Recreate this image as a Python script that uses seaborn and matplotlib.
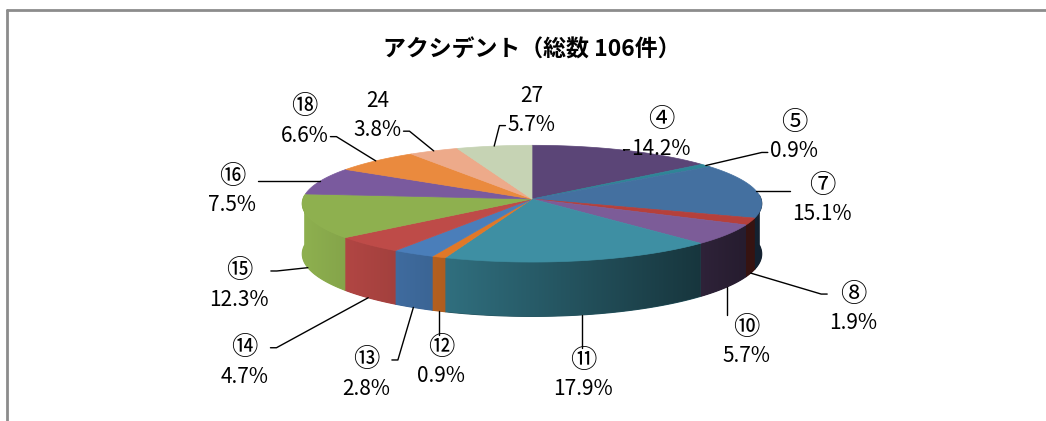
import matplotlib
matplotlib.use("Agg")
import matplotlib.pyplot as plt
import seaborn as sns
import numpy as np
from matplotlib.patches import Polygon

# --- Data ---
labels = ["④", "⑤", "⑦", "⑧", "⑩", "⑪", "⑫", "⑬", "⑭", "⑮", "⑯", "⑱", "24", "27"]
shares = [14.2, 0.9, 15.1, 1.9, 5.7, 17.9, 0.9, 2.8, 4.7, 12.3, 7.5, 6.6, 3.8, 5.7]
slice_colors = ["#5B4577", "#2F8597", "#4470A0", "#B5403B", "#7C5C98", "#3E8FA3", "#E07828",
                "#4A7EBA", "#BE4B48", "#8EB04F", "#7A5A9E", "#EA8A3E", "#EDAA8A", "#C6D3B4"]
title = "アクシデント（総数 106件）"

# label nudges (px) from the default radial spot
label_nudge = {"④": (2, 20), "⑤": (27, -7), "⑦": (-2, 10), "⑧": (48, 40), "⑩": (-25, 38),
               "⑪": (-9, 4), "⑫": (20, 0), "⑬": (-24, 21), "⑭": (-89, 32), "⑮": (-11, 31),
               "⑯": (-20, 18), "⑱": (-15, -14), "24": (-19, 0), "27": (52, 4)}

sns.set_theme(style="white")
plt.rcParams['font.family'] = ['Noto Sans CJK JP', 'DejaVu Sans']

W, H = 1046, 421
fig = plt.figure(figsize=(W / 100, H / 100), dpi=100)
ax = fig.add_axes([0, 0, 1, 1])
ax.axis('off')

# pie geometry (pixels)
cx, cy = 532, 199
rx, ry, depth, persp = 229, 58, 50, 0.08


def proj(a_deg, h=0.0):
    a = np.radians(a_deg)
    u, v = np.sin(a), np.cos(a)
    s = 1 / (1 + persp * v)
    return cx + rx * u * s, cy - ry * v * s + depth * h * s


palette = sns.color_palette(slice_colors)
bounds = np.concatenate([[0], np.cumsum(shares)]) / sum(shares) * 360
mids = (bounds[:-1] + bounds[1:]) / 2

# --- side walls (front half), gradient darker to the right ---
xg = np.arange(int(cx - rx - 15), int(cx + rx + 15))
shade = np.clip(0.64 - 0.36 * (xg - cx) / rx, 0.3, 1.0)
for i in range(len(shares)):
    a0, a1 = max(bounds[i], 86), min(bounds[i + 1], 274)
    if a1 <= a0:
        continue
    aa = np.linspace(a0, a1, max(3, int(a1 - a0) * 2 + 3))
    xt, yt = proj(aa)
    xb, yb = proj(aa[::-1], 1)
    pts = np.column_stack([np.r_[xt, xb], np.r_[yt, yb]])
    base = np.array(palette[i])
    mid_f = np.clip(0.64 - 0.36 * np.sin(np.radians((a0 + a1) / 2)), 0.3, 1.0)
    ax.add_patch(Polygon(pts, closed=True, facecolor=base * mid_f, edgecolor=base * mid_f, lw=0.8))
    clip = Polygon(pts, closed=True, facecolor='none', edgecolor='none')
    ax.add_patch(clip)
    img = base[None, None, :] * shade[None, :, None]
    im = ax.imshow(img, extent=(xg[0], xg[-1] + 1, 340, 180), aspect='auto',
                   interpolation='bilinear', zorder=1.5)
    im.set_clip_path(clip)

# --- top faces ---
for i in range(len(shares)):
    aa = np.linspace(bounds[i], bounds[i + 1], max(3, int(bounds[i + 1] - bounds[i]) + 2))
    xs, ys = proj(aa)
    pts = np.column_stack([np.r_[cx, xs], np.r_[cy, ys]])
    ax.add_patch(Polygon(pts, closed=True, facecolor=palette[i],
                         edgecolor=palette[i], lw=0.5, zorder=2))

ax.set_xlim(0, W)
ax.set_ylim(H, 0)

# --- labels ---
groups, anchors = [], []
for i, name in enumerate(labels):
    a = np.radians(mids[i])
    u, v = np.sin(a), np.cos(a)
    dx, dy = label_nudge[name]
    lx = cx + 295 * u + dx
    ly = cy + 5 - 100 * v + 70 * max(0, -v) + dy
    name_size = 15 if name.isascii() else 19
    t1 = ax.text(lx, ly - 14, name, ha='center', va='center', fontsize=name_size, color='black')
    t2 = ax.text(lx, ly + 15, f"{shares[i]:.1f}%", ha='center', va='center',
                 fontsize=15, color='black')
    groups.append((t1, t2))
    anchors.append(proj(mids[i], 0 if v > 0 else 1))

fig.canvas.draw()
renderer = fig.canvas.get_renderer()
inv = ax.transData.inverted()
for (t1, t2), (axp, ayp), m in zip(groups, anchors, mids):
    b1 = t1.get_window_extent(renderer).transformed(inv)
    b2 = t2.get_window_extent(renderer).transformed(inv)
    x0 = min(b1.x0, b1.x1, b2.x0, b2.x1)
    x1 = max(b1.x0, b1.x1, b2.x0, b2.x1)
    y0 = min(b2.y0, b2.y1) - 28
    y1 = max(b2.y0, b2.y1)
    if x0 + 2 <= axp <= x1 - 2:
        yend = y0 - 2 if (y0 + y1) / 2 > ayp else y1 + 2
        ax.plot([axp, axp], [ayp, yend], color='black', lw=1.0)
    else:
        upper = np.cos(np.radians(m)) > 0.35
        ty = y1 - 10 if upper else np.clip(ayp, y0 + 10, y1 - 10)
        if axp < x0:
            xs_ = [axp, x0 - 8, x0 - 2]
        else:
            xs_ = [axp, x1 + 8, x1 + 2]
        ax.plot(xs_, [ayp, ty, ty], color='black', lw=1.0)

# --- title and frame ---
ax.text(532, 50, title, ha='center', va='center', fontsize=16.5, fontweight='bold', color='black')
ax.plot([7, 7], [H, 10], color='#8c8c8c', lw=2)
ax.plot([7, W], [10, 10], color='#8c8c8c', lw=2)

fig.savefig("out.png", dpi=100)
